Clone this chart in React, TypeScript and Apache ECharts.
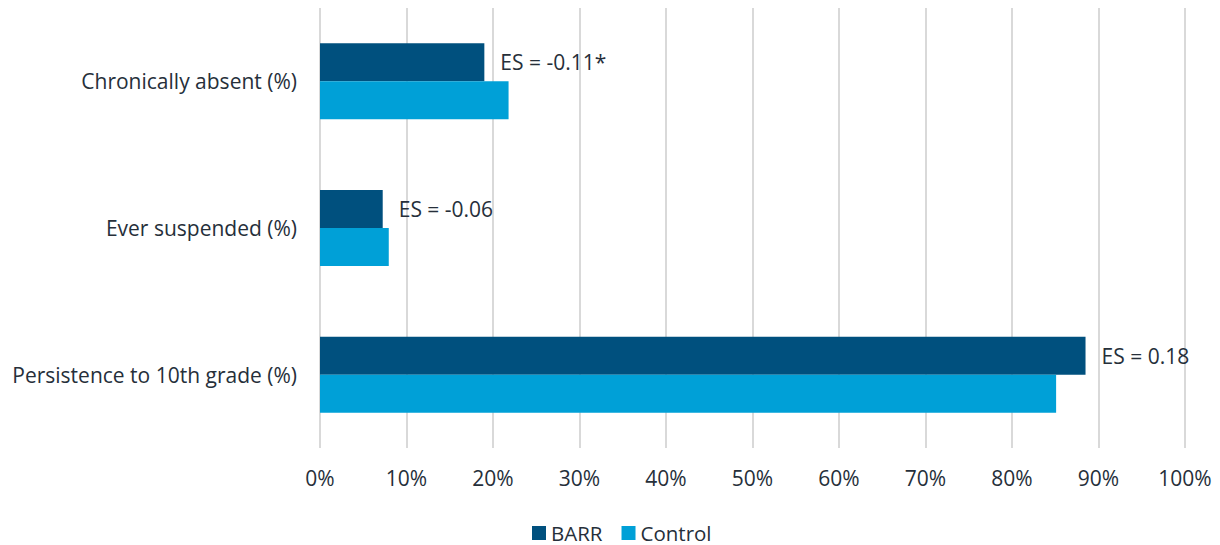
import React, { useEffect, useRef } from "react";
import * as echarts from "echarts";

const categories = ["Chronically absent (%)", "Ever suspended (%)", "Persistence to 10th grade (%)"];
const barrValues = [19.0, 7.25, 88.5];
const controlValues = [21.8, 7.95, 85.1];
const esLabels = ["ES = -0.11*", "ES = -0.06", "ES = 0.18"];
const tickValues = [0, 10, 20, 30, 40, 50, 60, 70, 80, 90, 100];

const FONT = "'Open Sans', 'Noto Sans', sans-serif";
const TEXT = "#262f3a";
const FS = 21;

export default function App() {
  const ref = useRef<HTMLDivElement>(null);
  useEffect(() => {
    document.body.style.margin = "0";
    const chart = echarts.init(ref.current!, null, { renderer: "svg" });
    chart.setOption({
      animation: false,
      textStyle: { fontFamily: FONT },
      grid: { left: 320, right: 35, top: 8, bottom: 97, containLabel: false },
      legend: {
        left: 527,
        top: 517,
        itemWidth: 14,
        itemHeight: 14,
        itemGap: 19,
        icon: "rect",
        textStyle: { fontSize: 20.5, color: TEXT, fontFamily: FONT, lineHeight: 22 },
        data: ["BARR", "Control"],
      },
      xAxis: {
        type: "value",
        min: 0,
        max: 100,
        interval: 10,
        axisLine: { show: false },
        axisTick: { show: false },
        splitLine: { show: true, lineStyle: { color: "#d9d9d9", width: 2 } },
        axisLabel: {
          fontSize: FS,
          color: TEXT,
          fontFamily: FONT,
          margin: 19,
          formatter: (v: number) => (tickValues.includes(v) ? v + "%" : ""),
        },
      },
      yAxis: {
        type: "category",
        data: categories,
        inverse: true,
        axisLine: { show: false },
        axisTick: { show: false },
        axisLabel: { fontSize: FS, color: TEXT, fontFamily: FONT, margin: 23 },
      },
      series: [
        {
          name: "BARR",
          type: "bar",
          data: barrValues,
          barWidth: 38,
          barGap: "0%",
          itemStyle: { color: "#00507e" },
          label: {
            show: true,
            position: "right",
            distance: 16,
            fontSize: FS,
            color: TEXT,
            fontFamily: FONT,
            formatter: (p: any) => esLabels[p.dataIndex],
          },
        },
        {
          name: "Control",
          type: "bar",
          data: controlValues,
          barWidth: 38,
          barGap: "0%",
          itemStyle: { color: "#00a0d7" },
        },
      ],
    });
    return () => chart.dispose();
  }, []);
  return <div ref={ref} style={{ width: 1220, height: 545 }} />;
}
